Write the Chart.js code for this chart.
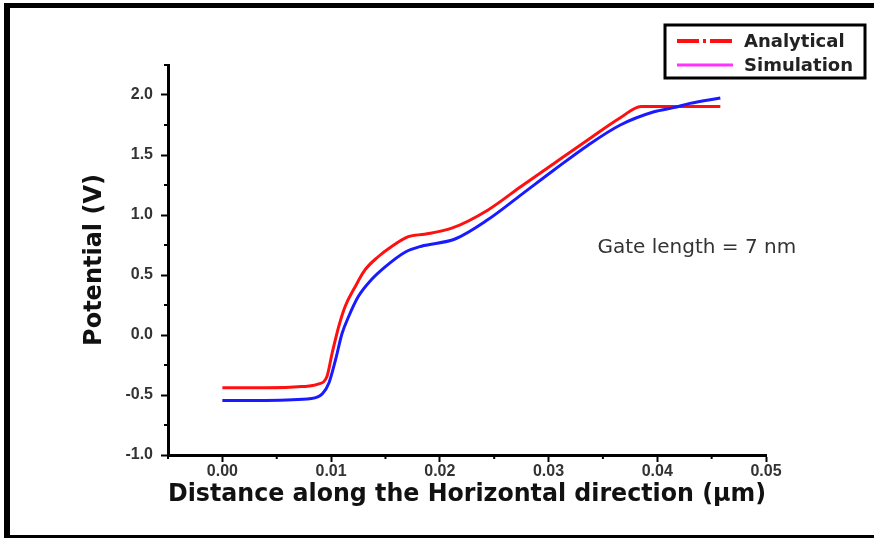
<!DOCTYPE html>
<html>
<head>
<meta charset="utf-8">
<script src="https://cdn.jsdelivr.net/npm/chart.js@4/dist/chart.umd.min.js"></script>
<style>
  html, body { margin: 0; padding: 0; background: #fff; }
  #wrap { position: relative; width: 874px; height: 539px; overflow: hidden; }
  #frame { position: absolute; left: 4px; top: 3px; right: 0; bottom: 1px; box-sizing: border-box;
           border-left: 6px solid #000; border-top: 5px solid #000; border-bottom: 3px solid #000; }
  canvas { position: absolute; left: 0; top: 0; }
</style>
</head>
<body>
<div id="wrap">
  <div id="frame"></div>
  <canvas id="potential_chart" width="874" height="539"></canvas>
</div>
<script>
// potential along the channel (um, V)
const analyticalX = [0, 0.004, 0.0073, 0.0088, 0.0096, 0.0101, 0.0107, 0.0113, 0.0122, 0.0131, 0.0143, 0.0156, 0.0171, 0.0186, 0.0211, 0.0244, 0.0275, 0.0305, 0.0336, 0.0366, 0.0385, 0.042, 0.0458]
const analyticalY = [-0.44, -0.44, -0.43, -0.41, -0.35, -0.15, 0.07, 0.24, 0.40, 0.54, 0.65, 0.74, 0.82, 0.84, 0.89, 1.04, 1.24, 1.43, 1.625, 1.81, 1.905, 1.905, 1.905]
const simulationX = [0, 0.004, 0.0082, 0.0092, 0.0098, 0.0104, 0.011, 0.0116, 0.0125, 0.0137, 0.015, 0.0168, 0.0183, 0.0214, 0.0244, 0.0275, 0.0305, 0.0336, 0.0366, 0.0397, 0.0415, 0.043, 0.0458]
const simulationY = [-0.545, -0.545, -0.53, -0.49, -0.40, -0.21, 0.01, 0.15, 0.32, 0.46, 0.57, 0.69, 0.74, 0.80, 0.96, 1.17, 1.375, 1.58, 1.75, 1.86, 1.895, 1.93, 1.975]

const seriesNames = ['Analytical', 'Simulation']
const lineColors = ['#ff1010', '#1a1aff']
const legendColors = ['#ff1010', '#ff33ff']
const noteText = 'Gate length = 7 nm'

const xRange = [-0.005, 0.05]
const yRange = [-1.0, 2.25]

const fontFamily = '"DejaVu Sans", "Liberation Sans", Arial, sans-serif'
const tickFamily = '"Liberation Sans", Arial, sans-serif'

const toPoints = (xs, ys) => xs.map((x, i) => ({x: x, y: ys[i]}))
const isMajor = (v, step) => Math.abs(v / step - Math.round(v / step)) < 1e-6

// short minor ticks between the labelled ones
const minorTicks = {
  id: 'minorTicks',
  afterDraw(chart) {
    const {ctx, scales: {x, y}} = chart
    ctx.save()
    ctx.strokeStyle = '#000'
    ctx.lineWidth = 2
    x.ticks.forEach(t => {
      if (isMajor(t.value, 0.01)) return
      const px = x.getPixelForValue(t.value)
      ctx.beginPath(); ctx.moveTo(px, x.top); ctx.lineTo(px, x.top + 4); ctx.stroke()
    })
    y.ticks.forEach(t => {
      if (isMajor(t.value, 0.5)) return
      const py = y.getPixelForValue(t.value)
      ctx.beginPath(); ctx.moveTo(y.right, py); ctx.lineTo(y.right - 4, py); ctx.stroke()
    })
    ctx.restore()
  }
}

// boxed legend top right + the gate length note
const legendBox = {
  id: 'legendBox',
  afterDraw(chart) {
    const {ctx, scales: {x, y}} = chart
    ctx.save()
    ctx.strokeStyle = '#000'
    ctx.lineWidth = 3
    ctx.strokeRect(665, 25, 200, 53)
    ctx.font = 'bold 18px ' + fontFamily
    ctx.textBaseline = 'middle'
    chart.data.datasets.forEach((ds, i) => {
      const ly = 41 + i * 24
      ctx.beginPath()
      ctx.strokeStyle = legendColors[i]
      ctx.lineWidth = i === 0 ? 4 : 3
      ctx.setLineDash(i === 0 ? [22, 4, 3, 4] : [])
      ctx.moveTo(677, ly); ctx.lineTo(733, ly); ctx.stroke()
      ctx.setLineDash([])
      ctx.fillStyle = '#222'
      ctx.fillText(ds.label, 744, ly + 1)
    })
    ctx.font = '20px ' + fontFamily
    ctx.fillStyle = '#333'
    ctx.fillText(noteText, x.getPixelForValue(0.0345), y.getPixelForValue(0.725))
    ctx.restore()
  }
}

const tickFont = {family: tickFamily, size: 16, weight: 'bold'}

new Chart(document.getElementById('potential_chart'), {
  type: 'line',
  data: {
    datasets: [{
      label: seriesNames[0],
      data: toPoints(analyticalX, analyticalY),
      borderColor: lineColors[0],
      borderWidth: 3,
      pointRadius: 0,
      cubicInterpolationMode: 'monotone',
      order: 1
    }, {
      label: seriesNames[1],
      data: toPoints(simulationX, simulationY),
      borderColor: lineColors[1],
      borderWidth: 3,
      pointRadius: 0,
      cubicInterpolationMode: 'monotone',
      order: 0
    }]
  },
  options: {
    responsive: false,
    animation: false,
    devicePixelRatio: 1,
    layout: {padding: {left: 80, top: 65, right: 108, bottom: 20}},
    plugins: {legend: {display: false}, tooltip: {enabled: false}},
    scales: {
      x: {
        type: 'linear', min: xRange[0], max: xRange[1],
        afterFit: scale => { scale.height = 539 - 20 - 455 },
        border: {color: '#000', width: 3},
        grid: {drawOnChartArea: false, tickLength: 7, tickWidth: 2,
               tickColor: c => isMajor(c.tick.value, 0.01) ? '#000' : 'rgba(0,0,0,0)'},
        ticks: {stepSize: 0.005, autoSkip: false, maxRotation: 0, padding: 0, color: '#333', font: tickFont,
                callback: v => isMajor(v, 0.01) ? v.toFixed(2) : ''},
        title: {display: true, text: 'Distance along the Horizontal direction (\u03bcm)', color: '#111',
                font: {family: fontFamily, size: 24, weight: 'bold'}, padding: {top: 0, bottom: 10}}
      },
      y: {
        min: yRange[0], max: yRange[1],
        afterFit: scale => { scale.width = 168 - 80 },
        border: {color: '#000', width: 3},
        grid: {drawOnChartArea: false, tickLength: 7, tickWidth: 2,
               tickColor: c => isMajor(c.tick.value, 0.5) ? '#000' : 'rgba(0,0,0,0)'},
        ticks: {stepSize: 0.25, autoSkip: false, padding: 8, color: '#333', font: tickFont,
                callback: v => isMajor(v, 0.5) ? v.toFixed(1) : ''},
        title: {display: true, text: 'Potential (V)', color: '#111',
                font: {family: fontFamily, size: 24, weight: 'bold'}, padding: {top: 0, bottom: 0}}
      }
    }
  },
  plugins: [minorTicks, legendBox]
})
</script>
</body>
</html>
